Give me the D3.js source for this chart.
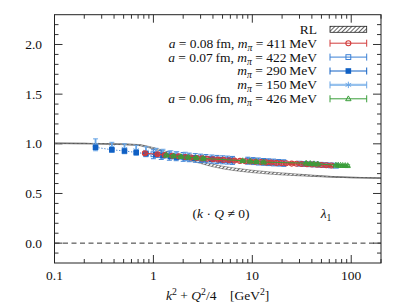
<!DOCTYPE html>
<html>
<head>
<meta charset="utf-8">
<script src="https://cdn.jsdelivr.net/npm/d3@7"></script>
<style>
  body { margin: 0; background: #fff; }
  svg { display: block; }
</style>
</head>
<body>
<script>
// RL band (centre and half width)
var rlX   = [0.1, 0.2, 0.3, 0.5, 0.7, 1, 1.5, 2, 2.5, 3, 4, 5, 7, 10, 15, 20, 30, 50, 70, 100, 200];
var rlY   = [1.005, 1.003, 1.0, 0.995, 0.988, 0.955, 0.9, 0.862, 0.835, 0.815, 0.782, 0.762, 0.74, 0.722, 0.706, 0.697, 0.686, 0.673, 0.666, 0.661, 0.655];
var rlErr = [0.002, 0.002, 0.003, 0.004, 0.005, 0.007, 0.009, 0.011, 0.012, 0.013, 0.013, 0.013, 0.013, 0.012, 0.011, 0.01, 0.008, 0.005, 0.003, 0.002, 0.002];

// a = 0.08 fm, m_pi = 411 MeV
var x411 = [0.82, 1.1, 1.3, 1.55, 1.8, 2.1, 2.4, 2.75, 3.1, 3.5, 4.0, 4.5, 5.1, 5.8, 6.6, 7.5, 8.5, 9.6, 10.8, 12.2, 13.8, 15.5, 17.5, 19.7, 22, 25, 28, 31.5, 35.5, 40, 45, 50, 56, 63];
var y411 = [0.905, 0.895, 0.888, 0.88, 0.874, 0.867, 0.862, 0.857, 0.853, 0.849, 0.845, 0.841, 0.838, 0.834, 0.831, 0.828, 0.825, 0.822, 0.819, 0.816, 0.813, 0.811, 0.808, 0.806, 0.804, 0.801, 0.799, 0.797, 0.794, 0.792, 0.789, 0.787, 0.784, 0.781];
var e411 = [0.014, 0.013, 0.012, 0.012, 0.012, 0.011, 0.011, 0.011, 0.011, 0.01, 0.01, 0.01, 0.01, 0.01, 0.01, 0.01, 0.01, 0.01, 0.01, 0.01, 0.01, 0.01, 0.01, 0.01, 0.01, 0.01, 0.01, 0.01, 0.01, 0.01, 0.01, 0.01, 0.01, 0.01];

// a = 0.07 fm, m_pi = 422 MeV
var x422 = [1.0, 1.2, 1.45, 1.7, 2.0, 2.3, 2.65, 3.0, 3.4, 3.9, 4.4, 5.0, 5.6, 6.3, 9.0, 10.2, 11.5, 13, 14.6, 16.4, 18.5, 20.8, 30, 34, 38.5, 43.5, 49, 55, 62, 70];
var y422 = [0.895, 0.888, 0.88, 0.874, 0.868, 0.863, 0.858, 0.854, 0.85, 0.846, 0.842, 0.839, 0.836, 0.833, 0.83, 0.826, 0.822, 0.818, 0.815, 0.812, 0.809, 0.806, 0.8, 0.797, 0.794, 0.792, 0.789, 0.786, 0.783, 0.78];
var e422 = [0.045, 0.045, 0.045, 0.044, 0.044, 0.043, 0.043, 0.042, 0.042, 0.041, 0.041, 0.04, 0.04, 0.04, 0.035, 0.035, 0.035, 0.034, 0.034, 0.034, 0.033, 0.033, 0.012, 0.012, 0.012, 0.012, 0.012, 0.012, 0.012, 0.012];

// m_pi = 290 MeV
var x290 = [0.26, 0.38, 0.51, 0.67, 0.84, 1.06, 1.25, 1.5, 1.72, 2.1, 2.6, 3.2, 3.9, 4.8, 5.9];
var y290 = [0.965, 0.94, 0.928, 0.913, 0.9, 0.89, 0.882, 0.873, 0.866, 0.862, 0.856, 0.85, 0.844, 0.838, 0.832];
var e290 = [0.012, 0.012, 0.012, 0.012, 0.012, 0.012, 0.012, 0.012, 0.012, 0.012, 0.012, 0.012, 0.012, 0.012, 0.012];

// m_pi = 150 MeV
var x150 = [0.26, 0.38, 0.51, 0.67, 0.84, 1.06, 1.25, 1.5, 1.72, 2.1];
var y150 = [0.99, 0.965, 0.95, 0.935, 0.92, 0.91, 0.9, 0.89, 0.882, 0.875];
var e150 = [0.06, 0.05, 0.05, 0.05, 0.05, 0.045, 0.045, 0.04, 0.04, 0.04];

// a = 0.06 fm, m_pi = 426 MeV
var x426 = [1.35, 1.6, 1.9, 2.25, 2.7, 3.2, 8.0, 9.5, 11, 13, 35, 38.5, 42, 46, 70, 74, 78, 82, 87, 92];
var y426 = [0.885, 0.878, 0.871, 0.865, 0.859, 0.853, 0.83, 0.825, 0.82, 0.816, 0.805, 0.802, 0.799, 0.797, 0.785, 0.784, 0.783, 0.782, 0.781, 0.78];
var e426 = [0.012, 0.012, 0.012, 0.012, 0.012, 0.012, 0.01, 0.01, 0.01, 0.01, 0.008, 0.008, 0.008, 0.008, 0.008, 0.008, 0.008, 0.008, 0.008, 0.008];

var xMajor = [0.1, 1, 10, 100];
var xMajorLabels = ["0.1", "1", "10", "100"];
var yMajor = [0, 0.5, 1, 1.5, 2];
var yMajorLabels = ["0.0", "0.5", "1.0", "1.5", "2.0"];

var width = 403, height = 306;
var FONT = "'Liberation Serif', 'Times New Roman', serif";
var FS = 13.5;
var x = d3.scaleLog().domain([0.1, 200]).range([54.5, 381]);
var y = d3.scaleLinear().domain([-0.2, 2.3]).range([263, 14.7]);

var svg = d3.select("body").append("svg")
    .attr("width", width)
    .attr("height", height)
    .attr("font-family", FONT);

var defs = svg.append("defs");
var pat = defs.append("pattern")
    .attr("id", "hatch")
    .attr("patternUnits", "userSpaceOnUse")
    .attr("width", 3).attr("height", 3)
    .attr("patternTransform", "rotate(45)");
pat.append("rect").attr("width", 3).attr("height", 3).attr("fill", "#fff");
pat.append("line").attr("x1", 0).attr("y1", 0).attr("x2", 0).attr("y2", 3)
    .attr("stroke", "#222").attr("stroke-width", 1.4);

defs.append("clipPath").attr("id", "clip")
    .append("rect")
    .attr("x", x.range()[0]).attr("y", y.range()[1])
    .attr("width", x.range()[1] - x.range()[0])
    .attr("height", y.range()[0] - y.range()[1]);

// ticks
var minorX = x.ticks().filter(v => xMajor.indexOf(v) < 0);
var minorY = d3.range(-0.1, 2.3, 0.1).filter(v => Math.abs(v * 2 - Math.round(v * 2)) > 1e-6);
var tickG = svg.append("g").attr("stroke", "#333").attr("stroke-width", 1);

function xTicks(vals, len) {
    vals.forEach(v => {
        tickG.append("line").attr("x1", x(v)).attr("x2", x(v))
            .attr("y1", y.range()[0]).attr("y2", y.range()[0] - len);
        tickG.append("line").attr("x1", x(v)).attr("x2", x(v))
            .attr("y1", y.range()[1]).attr("y2", y.range()[1] + len);
    });
}
function yTicks(vals, len) {
    vals.forEach(v => {
        tickG.append("line").attr("y1", y(v)).attr("y2", y(v))
            .attr("x1", x.range()[0]).attr("x2", x.range()[0] + len);
        tickG.append("line").attr("y1", y(v)).attr("y2", y(v))
            .attr("x1", x.range()[1]).attr("x2", x.range()[1] - len);
    });
}
xTicks(xMajor, 8);
xTicks(minorX, 4);
yTicks(yMajor, 8);
yTicks(minorY, 4);

svg.append("g").selectAll("text")
    .data(xMajor)
    .join("text")
    .attr("x", d => x(d))
    .attr("y", 279.5)
    .attr("text-anchor", "middle")
    .attr("font-size", FS)
    .attr("fill", "#111")
    .text((d, i) => xMajorLabels[i]);

svg.append("g").selectAll("text")
    .data(yMajor)
    .join("text")
    .attr("x", 42)
    .attr("y", d => y(d) + 4.4)
    .attr("text-anchor", "end")
    .attr("font-size", FS)
    .attr("fill", "#111")
    .text((d, i) => yMajorLabels[i]);

// zero line
svg.append("line")
    .attr("x1", x.range()[0]).attr("x2", x.range()[1])
    .attr("y1", y(0)).attr("y2", y(0))
    .attr("stroke", "#333").attr("stroke-dasharray", "5,3.5");

var plot = svg.append("g").attr("clip-path", "url(#clip)");

// RL band
var rl = rlX.map((v, i) => ({x: v, y: rlY[i], e: rlErr[i]}));
plot.append("path")
    .datum(rl)
    .attr("fill", "none")
    .attr("stroke", "#888")
    .attr("stroke-width", 1.4)
    .attr("d", d3.line().x(d => x(d.x)).y(d => y(d.y)).curve(d3.curveMonotoneX));
plot.append("path")
    .datum(rl)
    .attr("fill", "url(#hatch)")
    .attr("stroke", "#444")
    .attr("stroke-width", 0.5)
    .attr("d", d3.area().x(d => x(d.x)).y0(d => y(d.y - d.e)).y1(d => y(d.y + d.e)).curve(d3.curveMonotoneX));

var series = [
    {xs: x422, ys: y422, es: e422, color: "#3b80d6", sym: "square", line: "none", ew: 1},
    {xs: x150, ys: y150, es: e150, color: "#6aa6e6", sym: "star", line: "none", ew: 1.8},
    {xs: x290, ys: y290, es: e290, color: "#1060c4", sym: "fsquare", line: "1,2", ew: 1},
    {xs: x411, ys: y411, es: e411, color: "#d23c3c", sym: "circle", line: "", ew: 1},
    {xs: x426, ys: y426, es: e426, color: "#3a9e3a", sym: "triangle", line: "", ew: 1}
];

function marker(g, sym, color, cx, cy) {
    if (sym === "circle") {
        g.append("circle").attr("cx", cx).attr("cy", cy).attr("r", 2.5)
            .attr("fill", "none").attr("stroke", color).attr("stroke-width", 1.1);
    } else if (sym === "square") {
        g.append("rect").attr("x", cx - 2.4).attr("y", cy - 2.4).attr("width", 4.8).attr("height", 4.8)
            .attr("fill", "none").attr("stroke", color).attr("stroke-width", 1);
    } else if (sym === "fsquare") {
        g.append("rect").attr("x", cx - 2.8).attr("y", cy - 2.8).attr("width", 5.6).attr("height", 5.6)
            .attr("fill", color);
    } else if (sym === "star") {
        [0, 60, 120].forEach(a => {
            var r = 3.2, dx = r * Math.sin(a * Math.PI / 180), dy = r * Math.cos(a * Math.PI / 180);
            g.append("line").attr("x1", cx - dx).attr("y1", cy - dy).attr("x2", cx + dx).attr("y2", cy + dy)
                .attr("stroke", color).attr("stroke-width", 1);
        });
    } else if (sym === "triangle") {
        g.append("path")
            .attr("d", `M${cx},${cy - 2.9}L${cx + 2.7},${cy + 1.9}L${cx - 2.7},${cy + 1.9}Z`)
            .attr("fill", "none").attr("stroke", color).attr("stroke-width", 1);
    }
}

series.forEach(s => {
    var pts = s.xs.map((v, i) => ({x: v, y: s.ys[i], e: s.es[i]}));
    var g = plot.append("g");
    if (s.line !== "none") {
        g.append("path")
            .datum(pts)
            .attr("fill", "none")
            .attr("stroke", s.color)
            .attr("stroke-width", 1)
            .attr("stroke-dasharray", s.line || null)
            .attr("d", d3.line().x(d => x(d.x)).y(d => y(d.y)));
    }
    pts.forEach(d => {
        var cx = x(d.x), top = y(d.y + d.e), bot = y(d.y - d.e);
        g.append("line").attr("x1", cx).attr("x2", cx).attr("y1", top).attr("y2", bot)
            .attr("stroke", s.color).attr("stroke-width", s.ew);
        [top, bot].forEach(yy => g.append("line")
            .attr("x1", cx - 2.5).attr("x2", cx + 2.5).attr("y1", yy).attr("y2", yy)
            .attr("stroke", s.color).attr("stroke-width", 1));
    });
    pts.forEach(d => marker(g, s.sym, s.color, x(d.x), y(d.y)));
});

// frame
svg.append("rect")
    .attr("x", x.range()[0]).attr("y", y.range()[1])
    .attr("width", x.range()[1] - x.range()[0])
    .attr("height", y.range()[0] - y.range()[1])
    .attr("fill", "none").attr("stroke", "#222").attr("stroke-width", 1);

// legend
var legX0 = 330, legX1 = 366.7, legText = 317;
var legRows = [
    [["RL", ""]],
    [["a", "i"], [" = 0.08\u2009fm, ", ""], ["m", "i"], ["π", "s"], [" = 411\u2009MeV", ""]],
    [["a", "i"], [" = 0.07\u2009fm, ", ""], ["m", "i"], ["π", "s"], [" = 422\u2009MeV", ""]],
    [["m", "i"], ["π", "s"], [" = 290\u2009MeV", ""]],
    [["m", "i"], ["π", "s"], [" = 150\u2009MeV", ""]],
    [["a", "i"], [" = 0.06\u2009fm, ", ""], ["m", "i"], ["π", "s"], [" = 426\u2009MeV", ""]]
];
var legY = [29.3, 43.2, 57.1, 71, 84.9, 98.8];
var legSeries = [null, series[3], series[0], series[2], series[1], series[4]];

// parts: [text, kind] with kind "" roman, "i" italic, "s" italic subscript, "b" roman subscript, "p" superscript
function richText(t, parts) {
    var shift = 0;
    parts.forEach(p => {
        var ts = t.append("tspan").text(p[0]).attr("fill", "#111");
        if (p[1] === "i" || p[1] === "s") ts.attr("font-style", "italic");
        var want = (p[1] === "s" || p[1] === "b") ? 3 : p[1] === "p" ? -5 : 0;
        if (want !== shift) ts.attr("dy", want - shift);
        if (want !== 0) ts.attr("font-size", FS * 0.72);
        shift = want;
    });
}

legRows.forEach((row, i) => {
    var t = svg.append("text")
        .attr("x", legText).attr("y", legY[i] + 4.4)
        .attr("text-anchor", "end").attr("font-size", FS)
        .style("white-space", "pre");
    richText(t, row);
    var s = legSeries[i];
    if (!s) {
        svg.append("rect").attr("x", legX0).attr("y", legY[i] - 3)
            .attr("width", legX1 - legX0).attr("height", 6)
            .attr("fill", "url(#hatch)").attr("stroke", "#222").attr("stroke-width", 0.8);
    } else {
        var g = svg.append("g");
        g.append("line").attr("x1", legX0).attr("x2", legX1).attr("y1", legY[i]).attr("y2", legY[i])
            .attr("stroke", s.color).attr("stroke-width", s.sym === "star" ? 2.2 : 1)
            .attr("stroke-opacity", s.sym === "star" ? 0.7 : 1);
        [legX0, legX1].forEach(xx => g.append("line")
            .attr("x1", xx).attr("x2", xx).attr("y1", legY[i] - 3.5).attr("y2", legY[i] + 3.5)
            .attr("stroke", s.color).attr("stroke-width", 1));
        marker(g, s.sym, s.color, (legX0 + legX1) / 2, legY[i]);
    }
});

// annotations
var ann = svg.append("text").attr("x", 221).attr("y", 217.5)
    .attr("text-anchor", "middle").attr("font-size", FS).style("white-space", "pre");
richText(ann, [["(", ""], ["k", "i"], [" · ", ""], ["Q", "i"], [" ≠ 0)", ""]]);

var lam = svg.append("text").attr("x", 326).attr("y", 217.5)
    .attr("text-anchor", "middle").attr("font-size", FS);
richText(lam, [["λ", "i"], ["1", "b"]]);

// x title
var xt = svg.append("text").attr("x", 217.7).attr("y", 299.5)
    .attr("text-anchor", "middle").attr("font-size", FS).style("white-space", "pre");
richText(xt, [["k", "i"], ["2", "p"], [" + ", ""], ["Q", "i"], ["2", "p"], ["/4", ""], ["\u00a0\u00a0\u00a0\u00a0[GeV", ""], ["2", "p"], ["]", ""]]);
</script>
</body>
</html>
